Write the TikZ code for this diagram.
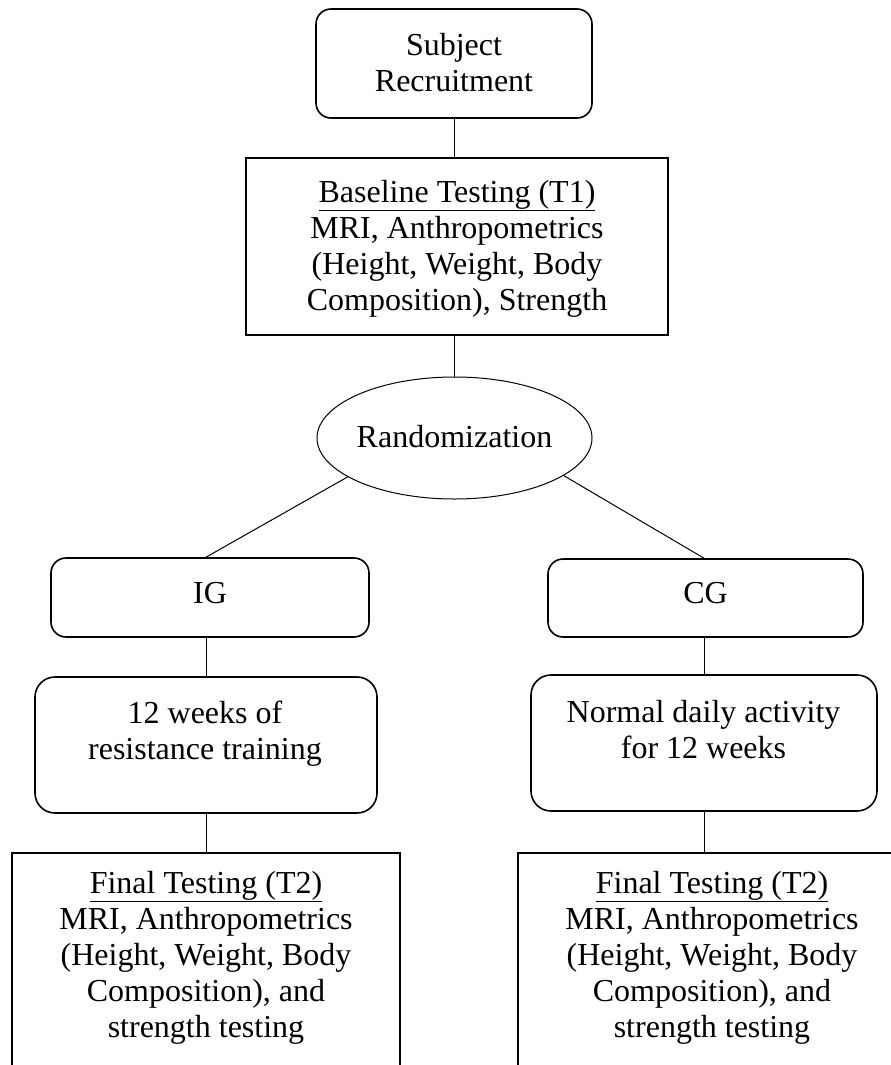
\documentclass[tikz,border=0pt]{standalone}
\usepackage{fontspec}
\setmainfont{Liberation Serif}
\usetikzlibrary{shapes.geometric}
\begin{document}
\begin{tikzpicture}[x=1pt,y=-1pt,
  edge/.style={draw=black,line width=1.6pt},
  box/.style={edge,inner sep=0pt},
  rbox/.style={box,rounded corners=15pt},
  rboxl/.style={box,rounded corners=20pt},
  frame/.style={inner sep=0pt},
  txt/.style={inner sep=0pt,align=center,font=\fontsize{32}{36}\selectfont},
  conn/.style={draw=black,line width=1pt}]
\useasboundingbox (0,0) rectangle (891,1065);
\coordinate (redge) at (892,0);
% boxes
\node[rbox,minimum width=276pt,minimum height=109pt] (sub) at (454,63.5) {};
\node[box,minimum width=422pt,minimum height=177pt] (base) at (457,246.5) {};
\node[ellipse,draw=black,line width=1pt,minimum width=275pt,minimum height=122pt,inner sep=0pt] (rand) at (454.5,438) {};
\node[rbox,minimum width=318pt,minimum height=79pt] (ig) at (210,597.5) {};
\node[rbox,minimum width=315pt,minimum height=78pt] (cg) at (705.5,598) {};
\node[rboxl,minimum width=342pt,minimum height=136pt] (wk) at (206,745) {};
\node[rboxl,minimum width=346pt,minimum height=136pt] (nd) at (704,743) {};
\node[frame,minimum width=388pt,minimum height=214pt] (fin1) at (206,960) {};
\node[frame,minimum width=388pt,minimum height=214pt] (fin2) at (712,960) {};
\draw[edge] (fin1.south west) -- (fin1.north west) -- (fin1.north east) -- (fin1.south east);
\draw[edge] (fin2.south west) -- (fin2.north west) -- (fin2.north west -| redge);
% texts
\node[txt,anchor=north] (subt) at (454,29.8) {\strut Subject\\Recruitment};
\node[txt,anchor=north] (baset) at (457,176.8) {\strut\underline{Baseline Testing (T1)}\\MRI, Anthropometrics\\(Height, Weight, Body\\Composition), Strength};
\node[txt,anchor=base] (randt) at (454.5,447) {Randomization};
\node[txt,anchor=base] (igt) at (210,603) {IG};
\node[txt,anchor=base] (cgt) at (705.5,603) {CG};
\node[txt,anchor=north] (wkt) at (205,697.8) {\strut 12 weeks of\\resistance training};
\node[txt,anchor=north] (ndt) at (703.5,696.8) {\strut Normal daily activity\\for 12 weeks};
\node[txt,anchor=north] (fin1t) at (206,867.8) {\strut\underline{Final Testing (T2)}\\MRI, Anthropometrics\\(Height, Weight, Body\\Composition), and\\strength testing};
\node[txt,anchor=north] (fin2t) at (712,867.8) {\strut\underline{Final Testing (T2)}\\MRI, Anthropometrics\\(Height, Weight, Body\\Composition), and\\strength testing};
% connectors
\draw[conn] (rand.north |- sub.south) -- (rand.north |- base.north);
\draw[conn] (rand.north |- base.south) -- (rand.north);
\draw[conn] (rand.200) -- (ig.north -| wk.north);
\draw[conn] (rand.341) -- (cg.north -| nd.north);
\draw[conn] (ig.south -| wk.north) -- (wk.north);
\draw[conn] (cg.south -| nd.north) -- (nd.north);
\draw[conn] (wk.south) -- (wk.south |- fin1.north);
\draw[conn] (nd.south) -- (nd.south |- fin2.north);
\end{tikzpicture}
\end{document}
